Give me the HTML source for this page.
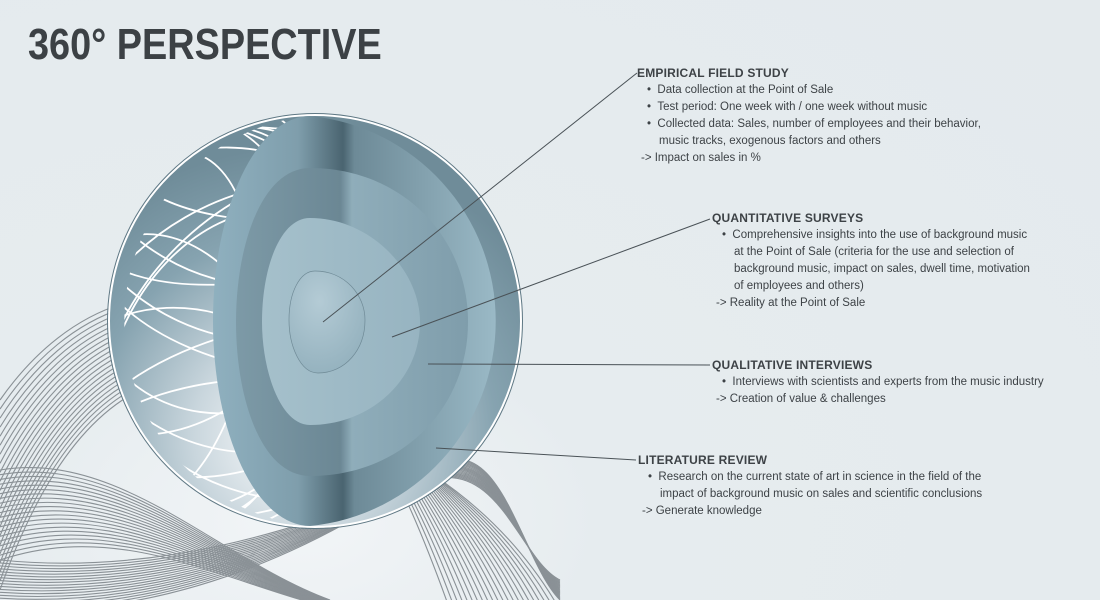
<!DOCTYPE html>
<html><head><meta charset="utf-8"><style>
body{margin:0;width:1100px;height:600px;overflow:hidden;background:#e5ebee;font-family:"Liberation Sans",sans-serif;color:#3d4246}
#wrap{position:relative;width:1100px;height:600px;background:radial-gradient(ellipse at 300px 520px,#f2f5f7 0,#e6ecef 300px,#e4eaed 100%)}
h1{position:absolute;left:28px;top:20px;margin:0;font-size:44px;line-height:50px;font-weight:bold;color:#3c4145;transform:scaleX(0.86);transform-origin:0 0;white-space:nowrap}
.blk{position:absolute;font-size:11.5px;line-height:17px}
.blk b{display:block;font-size:12px;letter-spacing:0.2px}
.blk div{padding-left:22px;text-indent:-12px}
.blk .ar{padding-left:4px;text-indent:0}
svg{position:absolute;left:0;top:0}
</style></head><body><div id="wrap">
<svg width="1100" height="600" id="s">
<defs>
<radialGradient id="outer" cx="0.45" cy="0.78" r="0.7">
<stop offset="0" stop-color="#ffffff"/><stop offset="0.35" stop-color="#c9d6dd"/><stop offset="0.7" stop-color="#86a3b0"/><stop offset="1" stop-color="#6f8c99"/></radialGradient>
<linearGradient id="face" x1="0" x2="1"><stop offset="0" stop-color="#8fb0bf"/><stop offset="0.3" stop-color="#7f9eac"/><stop offset="0.46" stop-color="#4a6470"/><stop offset="0.5" stop-color="#6d8a97"/><stop offset="1" stop-color="#9ab9c6"/></linearGradient>
<linearGradient id="l2" x1="0" x2="1"><stop offset="0" stop-color="#7d9aa7"/><stop offset="0.45" stop-color="#6b8794"/><stop offset="0.5" stop-color="#8fadba"/><stop offset="1" stop-color="#7f9dab"/></linearGradient>
<linearGradient id="l3" x1="0" x2="1"><stop offset="0" stop-color="#a5c0cb"/><stop offset="1" stop-color="#97b4c1"/></linearGradient>
<radialGradient id="core" cx="0.4" cy="0.3" r="0.8"><stop offset="0" stop-color="#b4cbd5"/><stop offset="1" stop-color="#91afbc"/></radialGradient>
<clipPath id="sph"><path d="M310,116 A206,206 0 0 0 310,526 A97,205 0 0 1 310,116Z"/></clipPath>
</defs>
<g id="mesh" fill="none" stroke="#8a9196" stroke-width="1.1"></g>
<circle cx="315" cy="321" r="206" fill="url(#outer)"/>
<g id="wire" clip-path="url(#sph)" fill="none" stroke="#fff" stroke-width="1.8"></g>
<circle cx="315" cy="321" r="206" fill="none" stroke="#fff" stroke-width="2"/>
<circle cx="315" cy="321" r="207.5" fill="none" stroke="#5f7884" stroke-width="1"/>
<path d="M310,116 A206,206 0 0 1 310,526 A97,205 0 0 1 310,116Z" fill="url(#face)"/>
<path d="M310,168 C400,168 468,235 468,322 C468,410 400,476 310,476 C262,476 236,400 236,322 C236,245 262,168 310,168Z" fill="url(#l2)"/>
<path d="M310,218 C370,218 420,270 420,322 C420,380 370,425 310,425 C280,425 262,370 262,322 C262,268 280,218 310,218Z" fill="url(#l3)"/>
<path d="M315,271 C345,271 365,295 365,320 C365,350 345,373 318,373 C300,373 289,345 289,320 C289,292 300,271 315,271Z" fill="url(#core)" stroke="#6f8a96" stroke-width="0.7"/>
<g stroke="#4a5257" stroke-width="1">
<line x1="637" y1="73" x2="323" y2="322"/>
<line x1="710" y1="219" x2="392" y2="337"/>
<line x1="710" y1="365" x2="428" y2="364"/>
<line x1="636" y1="460" x2="436" y2="448"/>
</g>
</svg>
<h1>360° PERSPECTIVE</h1>
<div class="blk" style="left:637px;top:65px"><b>EMPIRICAL FIELD STUDY</b>
<div>• &nbsp;Data collection at the Point of Sale</div>
<div>• &nbsp;Test period: One week with / one week without music</div>
<div>• &nbsp;Collected data: Sales, number of employees and their behavior,<br>music tracks, exogenous factors and others</div>
<div class="ar">-&gt; Impact on sales in %</div></div>
<div class="blk" style="left:712px;top:210px"><b>QUANTITATIVE SURVEYS</b>
<div>• &nbsp;Comprehensive insights into the use of background music<br>at the Point of Sale (criteria for the use and selection of<br>background music, impact on sales, dwell time, motivation<br>of employees and others)</div>
<div class="ar">-&gt; Reality at the Point of Sale</div></div>
<div class="blk" style="left:712px;top:357px"><b>QUALITATIVE INTERVIEWS</b>
<div>• &nbsp;Interviews with scientists and experts from the music industry</div>
<div class="ar">-&gt; Creation of value &amp; challenges</div></div>
<div class="blk" style="left:638px;top:452px"><b>LITERATURE REVIEW</b>
<div>• &nbsp;Research on the current state of art in science in the field of the<br>impact of background music on sales and scientific conclusions</div>
<div class="ar">-&gt; Generate knowledge</div></div>
<script>
var ns="http://www.w3.org/2000/svg";
function P(g,d){var p=document.createElementNS(ns,"path");p.setAttribute("d",d);document.getElementById(g).appendChild(p);}
function C(g,cx,cy,rx,ry,rot){var e=document.createElementNS(ns,"ellipse");e.setAttribute("cx",cx);e.setAttribute("cy",cy);e.setAttribute("rx",rx);e.setAttribute("ry",ry);e.setAttribute("transform","rotate("+rot+" "+cx+" "+cy+")");document.getElementById(g).appendChild(e);}
for(var i=0;i<22;i++){var t=i/21;
 P("mesh","M0,"+(400+t*190)+" C70,"+(300+t*90)+" 170,"+(270+t*80)+" 260,"+(320+t*70)+" S"+(400+t*80)+",470 "+(450+t*110)+",610");}
for(var i=0;i<20;i++){var t=i/19;
 P("mesh","M0,"+(470+t*90)+" C120,"+(450+t*70)+" 220,"+(560+t*20)+" 330,"+(600+t*8));}
for(var i=0;i<18;i++){var t=i/17;
 P("mesh","M0,"+(610-t*50)+" C200,"+(620-t*40)+" 360,"+(520-t*20)+" 430,"+(470+t*10)+" S520,560 560,"+(600-t*20));}
var W=[[250,330,190,130,-30],[240,300,170,150,20],[230,360,160,110,-60],[280,250,200,120,10],[200,320,120,200,0],[260,420,190,90,-15],[180,280,130,170,40],[290,360,220,160,-45],[220,230,150,100,25],[170,380,110,150,-20],[300,300,210,200,0],[260,200,180,80,-10],[210,180,140,90,30],[230,270,150,140,-35],[190,420,140,110,15],[270,150,150,70,0],[160,330,90,180,10],[240,460,170,80,-5]];
W.forEach(function(w){C("wire",w[0],w[1],w[2],w[3],w[4]);});
</script>
</div></body></html>
